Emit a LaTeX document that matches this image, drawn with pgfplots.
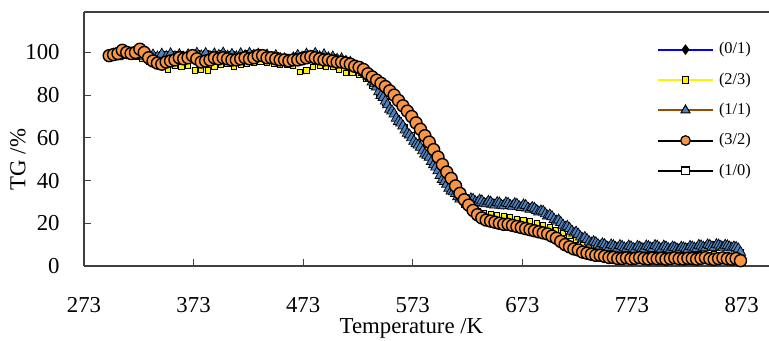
\documentclass[border=0pt]{standalone}
\usepackage{pgfplots}
\pgfplotsset{compat=1.18}
\usepackage{pgfplotstable}
\usepackage{fontspec}
\setmainfont{Liberation Serif}
\definecolor{tribl}{RGB}{79,129,189}
\definecolor{orng}{RGB}{247,150,70}
\definecolor{brwn}{RGB}{153,76,0}
\definecolor{axc}{RGB}{64,64,64}

\pgfplotstableread{
T v
296 98.5
300 99.2
304 98.0
308 99.5
312 98.6
316 99.8
320 98.9
324 99.6
328 98.2
332 97.6
336 98.8
340 97.9
344 99.2
348 98.1
352 99.4
356 98.0
360 99.0
364 97.8
368 98.9
372 98.3
376 99.6
380 98.4
384 99.5
388 98.1
392 99.3
396 98.6
400 99.7
404 98.3
408 99.1
412 98.0
416 99.4
420 98.5
424 99.6
428 98.7
432 99.2
436 97.9
440 98.8
444 97.6
448 98.5
452 97.2
456 97.0
460 96.4
464 97.5
468 98.6
472 97.8
476 99.2
480 98.3
484 99.5
488 98.0
492 98.9
496 97.5
500 97.9
504 96.8
508 97.0
512 95.8
516 95.4
520 93.9
522 93.6
524 92.7
526 91.9
528 90.6
530 89.9
532 88.9
534 87.9
536 86.2
538 85.3
540 83.8
542 81.6
544 79.8
546 78.9
548 77.2
550 75.5
552 73.4
554 72.6
556 71.2
558 69.2
560 67.7
562 66.9
564 65.6
566 63.7
568 62.1
570 61.3
572 60.0
574 58.4
576 57.2
578 56.6
580 55.6
582 53.9
584 52.4
586 51.8
588 50.9
590 48.9
592 47.4
594 46.3
596 44.6
598 42.4
600 40.5
602 39.6
604 38.3
606 36.4
608 35.1
610 34.7
612 33.9
614 32.4
616 31.3
618 31.9
620 31.4
622 30.4
624 30.6
626 31.5
628 31.2
630 30.1
632 29.8
634 30.9
636 30.5
638 29.4
640 29.1
642 30.3
644 29.9
646 28.9
648 28.6
650 29.7
652 29.5
654 28.4
656 28.2
658 29.6
660 29.3
662 28.3
664 28.0
666 29.2
668 28.9
670 27.8
672 27.4
674 28.6
676 28.3
678 27.1
680 26.6
682 27.4
684 27.0
686 26.0
688 25.3
690 25.8
692 25.6
694 24.4
696 23.4
698 23.9
700 23.1
702 21.8
704 21.0
706 21.5
708 20.4
710 19.1
712 18.2
714 18.6
716 17.6
718 16.3
720 15.4
722 15.9
724 14.9
726 13.6
728 12.8
730 13.4
732 12.4
734 11.3
736 10.7
738 11.4
740 10.9
742 10.0
744 9.4
746 10.4
748 10.0
750 9.0
752 8.6
754 9.9
756 9.5
758 8.7
760 8.3
762 9.6
764 9.2
766 8.5
768 8.1
770 9.4
772 9.0
774 8.3
776 7.9
778 9.2
780 8.8
782 8.2
784 8.0
786 9.4
788 9.1
790 8.5
792 8.2
794 9.6
796 9.3
798 8.4
800 8.0
802 9.3
804 8.9
806 8.2
808 7.8
810 8.9
812 8.6
814 8.0
816 7.7
818 8.8
820 8.5
822 8.1
824 7.8
826 9.2
828 8.9
830 8.4
832 8.2
834 9.7
836 9.4
838 8.8
840 8.5
842 9.9
844 9.6
846 8.9
848 8.6
850 10.0
852 9.8
854 9.2
856 8.8
858 9.7
860 9.5
862 8.9
864 8.4
866 8.9
868 8.7
870 8.0
872 6.4
}\blue

\pgfplotstableread{
T v
296 98.0
302 98.5
308 99.0
314 98.5
320 98.0
326 97.0
332 95.5
338 94.0
344 93.0
350 92.0
356 93.5
362 93.0
368 93.5
374 91.5
380 92.0
386 91.5
392 93.0
398 94.0
404 94.5
410 93.0
416 94.0
422 94.5
428 95.0
434 95.5
440 95.0
446 94.5
452 94.0
458 94.0
464 93.5
470 91.0
476 91.5
482 93.0
488 93.5
494 93.0
500 93.0
506 92.0
512 90.5
518 90.5
524 89.5
530 87.5
536 84.5
542 80.5
548 76.5
554 72.5
560 68.5
566 65.0
572 61.5
578 58.0
584 54.5
590 50.5
596 45.5
602 41.0
608 36.5
614 32.0
620 28.5
626 26.5
632 25.5
638 25.0
644 24.5
650 24.0
656 23.5
662 23.0
668 22.0
674 21.5
680 21.0
686 20.0
692 19.0
698 18.0
704 17.0
710 15.5
716 14.0
722 12.0
728 10.0
734 8.5
740 7.0
746 6.0
752 5.5
758 5.0
764 5.0
770 5.2
776 4.8
782 5.0
788 5.3
794 4.9
800 5.1
806 4.8
812 5.0
818 5.2
824 4.9
830 5.0
836 5.3
842 5.1
848 5.4
854 5.2
860 5.0
866 4.8
870 4.5
}\yellow

\pgfplotstableread{
T v
296 98.5
300 99.0
304 99.5
308 101.0
312 100.0
316 99.5
320 100.0
324 101.5
328 100.0
332 97.5
336 96.0
340 95.0
344 94.5
348 95.5
352 96.0
356 96.5
360 97.5
364 97.0
368 97.5
372 98.5
376 97.0
380 95.5
384 96.0
388 96.5
392 97.5
396 97.0
400 97.5
404 97.0
408 96.5
412 96.5
416 97.0
420 97.5
424 97.0
428 97.5
432 98.5
436 98.5
440 97.5
444 97.5
448 97.0
452 96.5
456 96.5
460 96.0
464 96.5
468 96.5
472 97.0
476 97.5
480 98.0
484 97.5
488 97.0
492 96.5
496 96.5
500 96.0
504 95.5
508 95.5
512 95.0
516 94.5
520 93.5
524 93.0
528 92.0
532 90.0
536 88.5
540 87.0
544 85.5
548 84.0
552 82.0
556 80.0
560 77.5
564 75.0
568 72.5
572 70.0
576 67.0
580 64.0
584 61.0
588 58.0
592 54.5
596 51.0
600 47.5
604 44.0
608 41.0
612 37.5
616 34.0
620 31.0
624 28.5
628 26.0
632 24.0
636 22.5
640 21.5
644 21.0
648 20.5
652 20.0
656 19.5
660 19.5
664 19.0
668 18.5
672 18.0
676 17.5
680 17.0
684 16.5
688 16.0
692 15.5
696 15.0
700 14.0
704 13.0
708 11.5
712 10.0
716 9.0
720 8.0
724 7.5
728 6.5
732 6.0
736 5.5
740 5.0
744 5.0
748 4.5
752 4.0
756 4.0
760 3.5
764 3.5
768 3.8
772 3.4
776 3.6
780 3.9
784 3.5
788 3.3
792 3.7
796 3.4
800 3.6
804 3.2
808 3.5
812 3.8
816 3.4
820 3.3
824 3.6
828 3.5
832 3.2
836 3.6
840 3.9
844 3.4
848 3.1
852 3.5
856 3.8
860 3.4
864 3.2
868 3.5
872 2.5
}\orange

\begin{document}
\begin{tikzpicture}
\begin{axis}[
  name=ax,
  scale only axis,
  width=342.5pt, height=126.85pt,
  xmin=273, xmax=898, ymin=0, ymax=118.8,
  axis x line=bottom, axis y line=left,
  axis line style={-, axc, line width=0.8pt},
  tick style={axc, line width=0.6pt},
  tick align=inside,
  major tick length=3.3pt,
  xtick={273,373,...,873},
  ytick={0,20,...,100},
  /pgf/number format/assume math mode=true,
  /pgf/number format/1000 sep={},
  tick label style={font=\fontsize{11.4}{13}\selectfont},
  xticklabel style={anchor=center, yshift=-19.5pt},
  yticklabel style={anchor=east, inner sep=0pt, xshift=-12pt},
  xlabel={Temperature /K},
  ylabel={TG /\%},
  every axis x label/.style={at={(axis description cs:0.478,0)}, anchor=center, yshift=-31pt, font=\fontsize{11.4}{13}\selectfont},
  every axis y label/.style={at={(axis description cs:0,0.42)}, anchor=center, xshift=-33pt, rotate=90, font=\fontsize{11.4}{13}\selectfont},
  legend image code/.code={\draw[mark repeat=2,mark phase=2] plot coordinates {(0pt,0pt) (13.75pt,0pt) (27.5pt,0pt)};},
  legend style={at={(axis description cs:0.8365,0.882)}, anchor=north west, draw=none, fill=none,
    inner sep=0pt, outer sep=0pt, row sep=7.75pt,
    font=\fontsize{8.2}{9}\selectfont,
    nodes={inner sep=0pt, text height=5.8pt, text depth=1.6pt},
    /tikz/every odd column/.append style={column sep=2.5pt}},
  legend cell align=left,
]
\addlegendimage{blue, line width=1pt, mark=diamond*, mark size=2.3pt, mark options={fill=black, draw=black, line width=0.5pt}}
\addlegendentry{(0/1)}
\addlegendimage{yellow, line width=1pt, mark=square*, mark size=1.6pt, mark options={fill=yellow, draw=black, line width=0.6pt}}
\addlegendentry{(2/3)}
\addlegendimage{brwn, line width=1pt, mark=triangle*, mark size=2.6pt, mark options={fill=tribl, draw=black, line width=0.5pt}}
\addlegendentry{(1/1)}
\addlegendimage{black, line width=1pt, mark=*, mark size=2.4pt, mark options={fill=orng, draw=black, line width=0.6pt}}
\addlegendentry{(3/2)}
\addlegendimage{black, line width=1pt, mark=square*, mark size=1.9pt, mark options={fill=white, draw=black, line width=0.6pt}}
\addlegendentry{(1/0)}

\addplot[forget plot, blue, line width=0.75pt, mark=diamond*, mark size=1.4pt, mark options={fill=black, draw=black}] table[x=T,y=v] {\blue};
\addplot[forget plot, black, line width=0.75pt, mark=square*, mark size=1.2pt, mark options={fill=white, draw=black}] table[x=T,y=v] {\blue};
\addplot[forget plot, yellow, line width=0.75pt, mark=square*, mark size=1.3pt, mark options={fill=yellow, draw=black, line width=0.5pt}] table[x=T,y=v] {\yellow};
\addplot[forget plot, brwn, line width=0.75pt, mark=triangle*, mark size=3.0pt, mark options={fill=tribl, draw=black, line width=0.35pt}] table[x=T,y=v] {\blue};
\addplot[forget plot, black, line width=0.75pt, mark=*, mark size=3pt, mark options={fill=orng, draw=black, line width=0.7pt}] table[x=T,y=v] {\orange};
\end{axis}
\draw[axc, line width=0.8pt] (ax.north west) -- (ax.north east);
\pgfresetboundingbox
\path ([xshift=-42pt,yshift=-37.5pt]ax.south west) rectangle ([yshift=6.15pt]ax.north east);
\end{tikzpicture}
\end{document}
